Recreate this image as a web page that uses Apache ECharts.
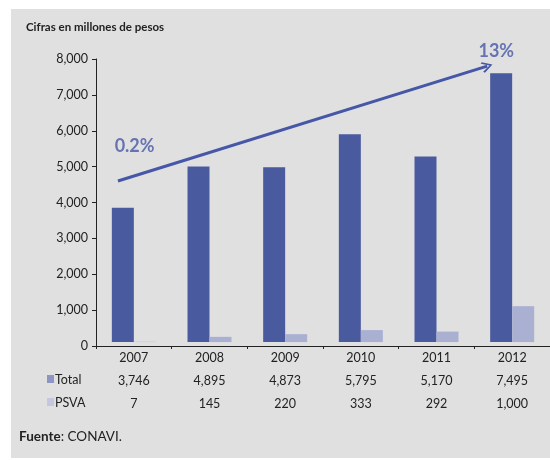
<!DOCTYPE html>
<html>
<head>
<meta charset="utf-8">
<script src="https://cdn.jsdelivr.net/npm/echarts@6/dist/echarts.min.js"></script>
<style>html,body{margin:0;padding:0;background:#fff}#c{width:550px;height:460px}</style>
</head>
<body>
<div id="c"></div>
<script>
var categories = ['2007', '2008', '2009', '2010', '2011', '2012'];
var totalValues = [3746, 4895, 4873, 5795, 5170, 7495];
var psvaValues = [7, 145, 220, 333, 292, 1000];
var yTicks = [0, 1000, 2000, 3000, 4000, 5000, 6000, 7000, 8000];
var arrowStart = [0.29, 4600];
var arrowEnd = [5.17, 7800];
var growthLabels = [[0.51, 5560, '0.2%'], [5.29, 8210, '13%']];

var FONT = "'Lato','Open Sans',sans-serif";
var cTotal = '#4a5a9f';
var cPsva = '#a9b0d2';
var cArrow = '#4657a8';
function fmt(v) { return v.toLocaleString('en-US'); }

var chart = echarts.init(document.getElementById('c'));
chart.setOption({
  backgroundColor: '#ffffff',
  animation: false,
  grid: { left: 96, top: 59, width: 457, height: 287, containLabel: false },
  xAxis: [{
    type: 'category',
    data: categories,
    axisLine: { show: true, lineStyle: { color: '#222', width: 1 } },
    axisTick: { show: true, length: 3, lineStyle: { color: '#222' } },
    axisLabel: {
      margin: 0,
      lineHeight: 23,
      formatter: function (v, i) {
        return '{y|' + v + '}\n{v|' + fmt(totalValues[i]) + '}\n{v|' + fmt(psvaValues[i]) + '}';
      },
      rich: {
        y: { fontFamily: FONT, fontSize: 12.5, color: '#222', lineHeight: 23 },
        v: { fontFamily: FONT, fontSize: 12.5, color: '#222', lineHeight: 23 }
      }
    }
  }, {
    type: 'value', min: 0, max: 6, show: false
  }],
  yAxis: [{
    type: 'value', min: 0, max: 8000, interval: 1000,
    axisLine: { show: true, lineStyle: { color: '#222', width: 1 } },
    axisTick: { show: true, length: 4, lineStyle: { color: '#222' } },
    splitLine: { show: false },
    axisLabel: {
      margin: 8, fontFamily: FONT, fontSize: 12.5, color: '#222',
      customValues: yTicks,
      formatter: function (v) { return fmt(v); }
    }
  }, {
    type: 'value', min: -110, max: 7890, show: false
  }],
  series: [{
    type: 'bar', name: 'Total', data: totalValues, yAxisIndex: 1,
    barWidth: 22, barGap: '0%', itemStyle: { color: cTotal }
  }, {
    type: 'bar', name: 'PSVA', data: psvaValues, yAxisIndex: 1,
    barWidth: 22, barGap: '0%', itemStyle: { color: cPsva }
  }, {
    type: 'lines', coordinateSystem: 'cartesian2d', xAxisIndex: 1, yAxisIndex: 0,
    symbol: ['none', 'path://M0,0 L8,10 L6,11.5 L0,3.2 L-6,11.5 L-8,10 Z'],
    symbolSize: [15, 11],
    lineStyle: { color: cArrow, width: 3, opacity: 1 },
    data: [{ coords: [arrowStart, arrowEnd] }],
    z: 5
  }, {
    type: 'scatter', xAxisIndex: 1, yAxisIndex: 0, clip: false,
    symbolSize: 0,
    data: growthLabels,
    label: {
      show: true, position: 'inside',
      formatter: function (p) { return p.value[2]; },
      fontFamily: FONT, fontSize: 18, fontWeight: 'bold', color: cArrow
    },
    z: 6
  }],
  graphic: [
    { type: 'rect', z: -100, silent: true, shape: { x: 11, y: 9, width: 539, height: 449 }, style: { fill: '#e0e0e0' } },
    { type: 'text', left: 26, top: 21, style: { text: 'Cifras en millones de pesos', font: "bold 11.5px " + FONT, fill: '#222' } },
    { type: 'rect', shape: { x: 47, y: 375, width: 7, height: 8 }, style: { fill: '#8c95c4' } },
    { type: 'text', left: 55, top: 373, style: { text: 'Total', font: "12.5px " + FONT, fill: '#222' } },
    { type: 'rect', shape: { x: 47, y: 398, width: 7, height: 8 }, style: { fill: '#c3c8e0' } },
    { type: 'text', left: 55, top: 396, style: { text: 'PSVA', font: "12.5px " + FONT, fill: '#222' } },
    { type: 'text', left: 19, top: 430, style: {
      text: '{b|Fuente}: CONAVI.',
      rich: { b: { fontFamily: FONT, fontSize: 13.5, fontWeight: 'bold', fill: '#222' } },
      font: "13.5px " + FONT, fill: '#222' } }
  ]
});
</script>
</body>
</html>
